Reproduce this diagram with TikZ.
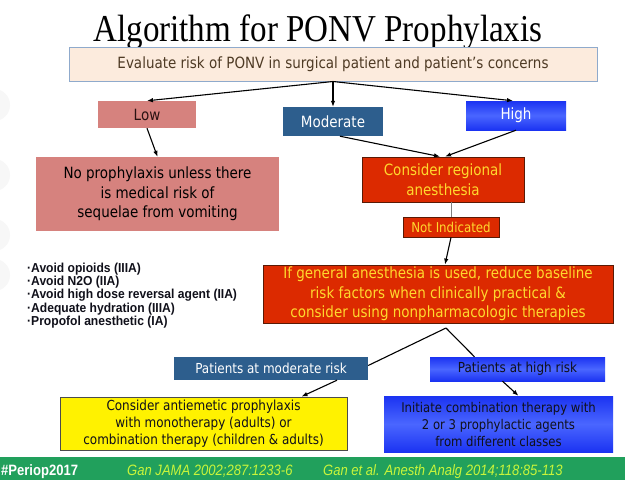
\documentclass[tikz,border=0pt]{standalone}
\usepackage{fontspec}
\usetikzlibrary{arrows.meta}
\newfontfamily\tfont[FakeStretch=0.87]{Liberation Serif}
\newfontfamily\bfont[FakeStretch=0.87]{DejaVu Sans}
\newfontfamily\afont[FakeStretch=0.87]{Liberation Sans}
\newfontfamily\lfont[FakeStretch=0.93]{Liberation Sans}
\definecolor{evalfill}{HTML}{FCEBDD}
\definecolor{evalline}{HTML}{8FAACC}
\definecolor{evaltext}{HTML}{4E3A24}
\definecolor{lowfill}{HTML}{D6827E}
\definecolor{lowtext}{HTML}{2A1212}
\definecolor{modfill}{HTML}{2D5E8D}
\definecolor{hiblue}{HTML}{1B33F2}
\definecolor{hilight}{HTML}{4A66FF}
\definecolor{redfill}{HTML}{DC2A00}
\definecolor{redline}{HTML}{5A1A05}
\definecolor{yeltext}{HTML}{FFD92E}
\definecolor{yelfill}{HTML}{FFF200}
\definecolor{footgreen}{HTML}{21A05C}
\definecolor{foottext}{HTML}{C9F53A}
\definecolor{darktext}{HTML}{10101A}
\begin{document}
\begin{tikzpicture}[x=1pt,y=-1pt,
  box/.style={rectangle, inner sep=0pt, align=center},
  big/.style={font=\bfont\fontsize{15.5}{19.5}\selectfont},
  small/.style={font=\bfont\fontsize{13.8}{17}\selectfont},
  redbox/.style={box, fill=redfill, draw=redline, line width=0.8pt, text=yeltext},
  bluebox/.style={box, top color=hiblue, bottom color=hiblue, middle color=hilight},
  arr/.style={-{Latex[length=6pt,width=4.5pt]}, line width=1.1pt, black},
  ln/.style={line width=1.1pt, black}]
\useasboundingbox (0,0) rectangle (625,480);
\fill[white] (0,0) rectangle (625,480);
% faint decorative discs at the left edge
\foreach \yy in {105,175,235,275} \fill[gray!6] (-6,\yy) circle (16pt);

\node[font=\tfont\fontsize{38}{40}\selectfont, anchor=base] (title) at (318,41) {Algorithm for PONV Prophylaxis};

\node[box, big, fill=evalfill, draw=evalline, line width=1pt, minimum width=528pt, minimum height=34pt, text=evaltext] (eval) at (333,64) {Evaluate risk of PONV in surgical patient and patient’s concerns};

\node[box, big, fill=lowfill, text=lowtext, minimum width=98pt, minimum height=27pt] (low) at (147,114.5) {Low};
\node[box, big, fill=modfill, text=white, minimum width=100pt, minimum height=29pt] (mod) at (333,121.5) {Moderate};
\node[bluebox, big, text=white, minimum width=100pt, minimum height=29pt] (high) at (516,115.5) {High};

\node[box, big, fill=lowfill, text=black, minimum width=243pt, minimum height=74pt] (nopro) at (157.5,194) {No prophylaxis unless there\\is medical risk of\\sequelae from vomiting};

\node[redbox, big, minimum width=162pt, minimum height=45pt] (cons) at (443,179.5) {Consider regional\\anesthesia};
\node[redbox, font=\bfont\fontsize{13.6}{15}\selectfont, minimum width=96pt, minimum height=20pt] (notind) at (451,227) {Not Indicated};
\node[redbox, big, minimum width=350pt, minimum height=58pt] (gen) at (438,294) {If general anesthesia is used, reduce baseline\\risk factors when clinically practical \&\\consider using nonpharmacologic therapies};

\node[anchor=north west, align=left, inner sep=0pt, font=\lfont\bfseries\fontsize{13}{12}\selectfont, text=darktext] (bullets) at (27,263) {·Avoid opioids (IIIA)\\·Avoid N2O (IIA)\\·Avoid high dose reversal agent (IIA)\\·Adequate hydration (IIIA)\\·Propofol anesthetic (IA)};

\node[box, small, fill=modfill, text=white, minimum width=194pt, minimum height=23pt] (patmod) at (271,368.5) {Patients at moderate risk};
\node[bluebox, small, text=darktext, minimum width=175pt, minimum height=24pt] (pathigh) at (517.5,369) {Patients at high risk};

\node[box, small, fill=yelfill, draw=black!70, line width=0.8pt, text=darktext, minimum width=287pt, minimum height=53pt] (yellow) at (203.5,423.5) {Consider antiemetic prophylaxis\\with monotherapy (adults) or\\combination therapy (children \& adults)};
\node[bluebox, font=\bfont\fontsize{13.4}{17}\selectfont, text=darktext, minimum width=229pt, minimum height=56pt] (init) at (498.5,424) {Initiate combination therapy with\\2 or 3 prophylactic agents\\from different classes};

% connectors
\draw[arr] (eval.south) -- (low.north);
\draw[arr] (eval.south) -- (mod.north);
\draw[arr] (eval.south) -- ([xshift=-3pt]high.north);
\draw[arr] (low.south) -- (nopro.north);
\draw[arr] ([xshift=7pt]mod.south) -- ([xshift=-3pt]cons.north);
\draw[arr] (high.south) -- ([xshift=2pt]cons.north);
\draw[gray, line width=0.8pt] (cons.south -| notind.north) -- (notind.north);
\draw[arr] (notind.south) -- ([xshift=7pt]gen.north);
\coordinate (split) at (446,328);
\draw[ln] (split) -- ([yshift=3pt]patmod.east);
\draw[ln] (split) -- ([xshift=-43pt]pathigh.north);
\draw[arr] ([xshift=66pt]patmod.south) -- ([xshift=98pt]yellow.north);
\draw[arr] ([xshift=-15pt]pathigh.south) -- ([xshift=20pt]init.north);

% footer
\fill[footgreen] (0,457) rectangle (625,480);
\node[anchor=base west, inner sep=0pt, font=\afont\bfseries\fontsize{15}{17}\selectfont, text=white] (tag) at (1,475) {\#Periop2017};
\node[anchor=base west, inner sep=0pt, font=\afont\itshape\fontsize{15}{17}\selectfont, text=foottext] (ref1) at (127,475) {Gan JAMA 2002;287:1233-6};
\node[anchor=base west, inner sep=0pt, font=\afont\itshape\fontsize{15}{17}\selectfont, text=foottext] (ref2) at (323,475) {Gan et al. Anesth Analg 2014;118:85-113};
\end{tikzpicture}
\end{document}
